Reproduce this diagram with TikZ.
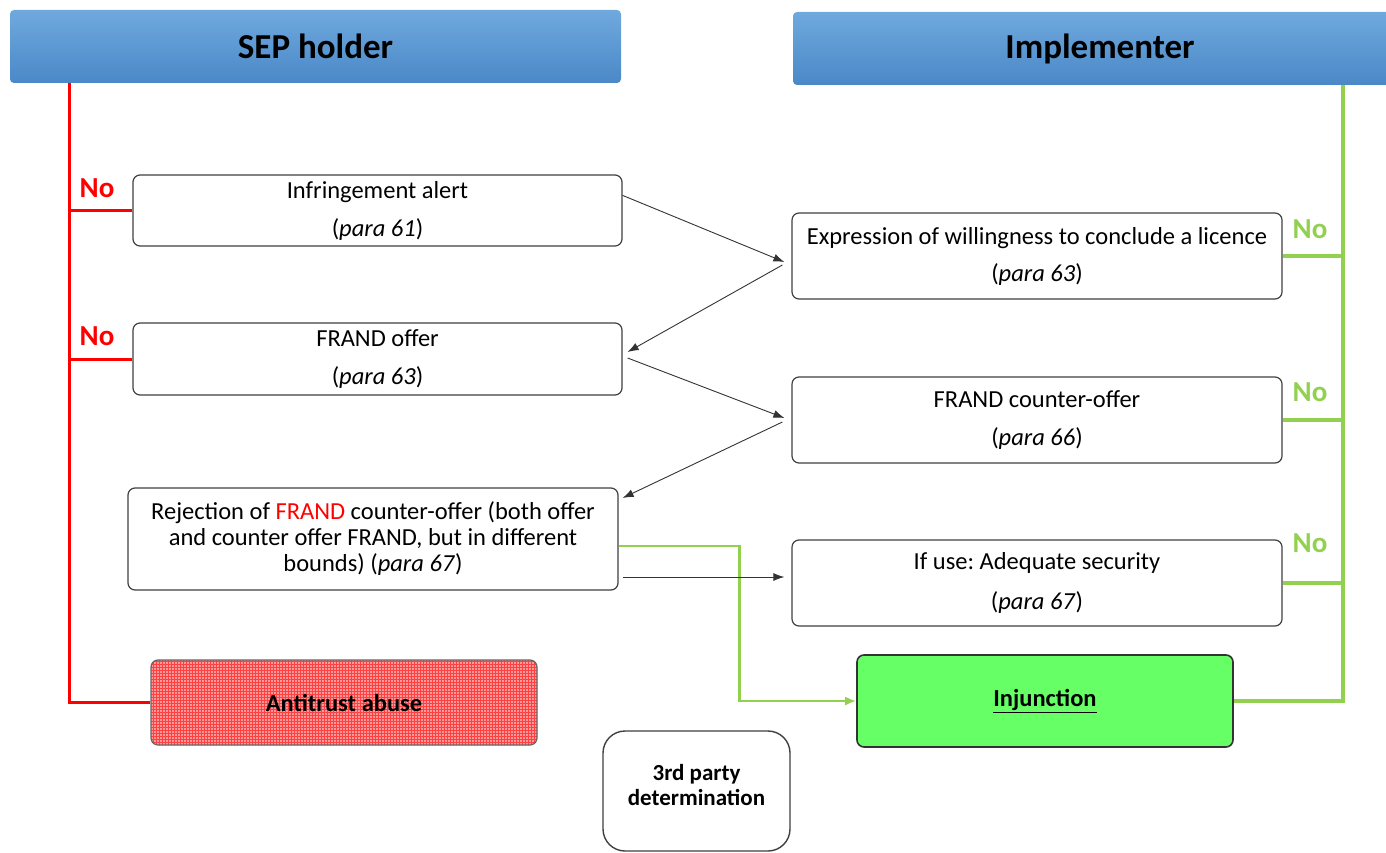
\documentclass[tikz,border=0pt]{standalone}
\usepackage{fontspec}
\setmainfont{Carlito}
\usetikzlibrary{patterns,arrows.meta,calc}
\definecolor{hdrtop}{HTML}{6FA9DE}
\definecolor{hdrbot}{HTML}{4A88C7}
\definecolor{grn}{HTML}{92D050}
\definecolor{injg}{HTML}{66FF66}
\frenchspacing
\begin{document}
\begin{tikzpicture}[x=1pt,y=-1pt,
 hdr/.style={draw=none, rounded corners=4pt, top color=hdrtop, bottom color=hdrbot, font=\fontsize{35}{40}\selectfont\bfseries, inner sep=0pt},
 box/.style={draw=black!75, line width=1.2pt, rounded corners=7pt, fill=white, align=center, font=\fontsize{24.5}{28}\selectfont, inner sep=0pt},
 redln/.style={draw=red, line width=3pt},
 grnln/.style={draw=grn, line width=3.5pt},
 arr/.style={draw=black!80, line width=0.9pt, -{Latex[length=11pt,width=8pt]}},
 nolab/.style={font=\fontsize{29}{33}\selectfont\bfseries}]
\useasboundingbox (0,0) rectangle (1386,853);
% headers
\node[hdr, minimum width=611, minimum height=73] (sep) at (315.5,46.5) {SEP holder};
\node[hdr, minimum width=614, minimum height=73] (imp) at (1100,48.5) {Implementer};
% left boxes
\node[box, minimum width=489, minimum height=71] (infr) at (377.5,210.5) {Infringement alert\\[10pt](\textit{para 61})};
\node[box, minimum width=489, minimum height=72] (foffer) at (377.5,359) {FRAND offer\\[10pt](\textit{para 63})};
\node[box, minimum width=490, minimum height=102, font=\fontsize{24.5}{26}\selectfont] (rej) at (373,539) {Rejection of \textcolor{red}{FRAND} counter-offer (both offer\\and counter offer FRAND, but in different\\bounds) (\textit{para 67})};
\node[box, minimum width=386, minimum height=85, preaction={fill=red!40}, pattern=grid, pattern color=red!75, draw=black!60, font=\fontsize{24.5}{28}\selectfont\bfseries] (abuse) at (344,702.5) {Antitrust abuse};
% right boxes
\node[box, minimum width=490, minimum height=86] (expr) at (1037,256) {Expression of willingness to conclude a licence\\[9pt](\textit{para 63})};
\node[box, minimum width=490, minimum height=86] (cntr) at (1037,420) {FRAND counter-offer\\[10pt](\textit{para 66})};
\node[box, minimum width=490, minimum height=86] (ifuse) at (1037,583) {If use: Adequate security\\[12pt](\textit{para 67})};
\node[box, minimum width=376, minimum height=92, fill=injg, draw=black!80, line width=1.6pt, font=\fontsize{24.5}{28}\selectfont\bfseries] (inj) at (1045,701) {\underline{Injunction}};
\node[box, minimum width=187, minimum height=120, rounded corners=22pt, line width=1.4pt] (third) at (696.5,791) {};
\node[align=center, font=\fontsize{23}{25}\selectfont\bfseries] (thirdtxt) at (696.5,785) {3rd party\\determination};
% red connectors
\draw[redln] (sep.south west) ++(60,0) |- (abuse.west);
\draw[redln] (infr.west) -- ++(-63,0);
\draw[redln] (foffer.west) -- ++(-63,0);
\node[nolab, text=red] (no1) at (97,188) {No};
\node[nolab, text=red] (no2) at (97,336) {No};
% green connectors
\draw[grnln] (imp.south west) ++(550,0) |- (inj.east);
\draw[grnln] (expr.east) -- ++(61,0);
\draw[grnln] (cntr.east) -- ++(61,0);
\draw[grnln] (ifuse.east) -- ++(61,0);
\node[nolab, text=grn] (no3) at (1310,229) {No};
\node[nolab, text=grn] (no4) at (1310,392) {No};
\node[nolab, text=grn] (no5) at (1310,543) {No};
\draw[draw=grn, line width=2.5pt, -{Latex[length=11pt,width=9pt]}] ($(rej.east)+(0,7)$) -- ++(121,0) |- (inj.west);
% black arrows
\draw[arr] ($(infr.north east)+(0,21)$) -- ($(expr.west)+(-7,6)$);
\draw[arr] ($(expr.west)+(-9,9)$) -- ($(foffer.east)+(5,-7)$);
\draw[arr] ($(foffer.east)+(5,-1)$) -- ($(cntr.west)+(-7,-2)$);
\draw[arr] ($(cntr.west)+(-9,2)$) -- ($(rej.east)+(4,-41)$);
\draw[arr] ($(rej.east)+(4,38)$) -- ($(ifuse.west)+(-7,-6)$);
\end{tikzpicture}
\end{document}
